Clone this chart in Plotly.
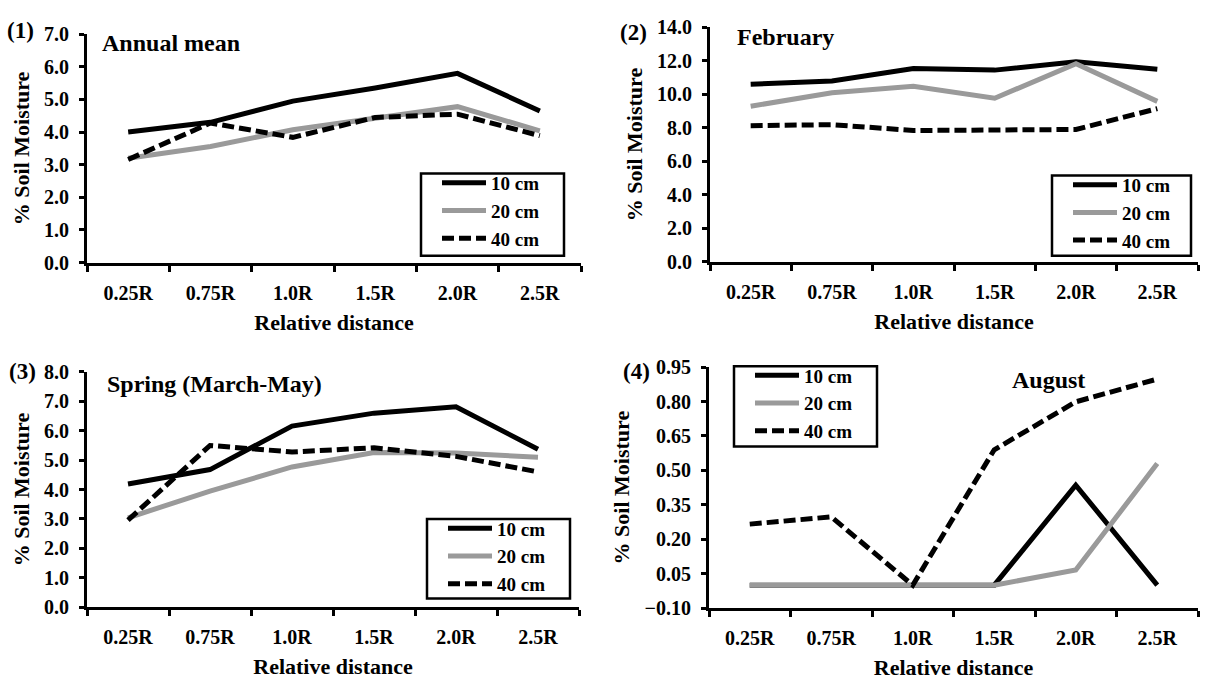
import plotly.graph_objects as go

W, H = 1211, 683

categories = ["0.25R", "0.75R", "1.0R", "1.5R", "2.0R", "2.5R"]
series_names = ["10 cm", "20 cm", "40 cm"]

# Panel 1: Annual mean
annual_10 = [4.0, 4.3, 4.95, 5.35, 5.8, 4.65]
annual_20 = [3.2, 3.56, 4.07, 4.43, 4.78, 4.04]
annual_40 = [3.16, 4.28, 3.84, 4.45, 4.55, 3.89]

# Panel 2: February
feb_10 = [10.6, 10.8, 11.55, 11.45, 11.95, 11.5]
feb_20 = [9.29, 10.1, 10.48, 9.77, 11.83, 9.58]
feb_40 = [8.13, 8.19, 7.84, 7.9, 7.9, 9.15]

# Panel 3: Spring (March-May)
spring_10 = [4.19, 4.68, 6.16, 6.6, 6.82, 5.37]
spring_20 = [3.04, 3.95, 4.77, 5.26, 5.24, 5.1]
spring_40 = [2.96, 5.5, 5.28, 5.42, 5.13, 4.6]

# Panel 4: August
aug_10 = [0.0, 0.0, 0.0, 0.0, 0.436, 0.0]
aug_20 = [0.0, 0.0, 0.0, 0.0, 0.066, 0.53]
aug_40 = [0.266, 0.2975, 0.0, 0.59, 0.799, 0.898]

panel_titles = ["Annual mean", "February", "Spring (March-May)", "August"]
panel_labels = ["(1)", "(2)", "(3)", "(4)"]
y_ranges = [[0, 7], [0, 14], [0, 8], [-0.10, 0.95]]
y_dticks = [1.0, 2.0, 1.0, 0.15]
y_formats = [".1f", ".1f", ".1f", ".2f"]

panels = [
    [annual_10, annual_20, annual_40],
    [feb_10, feb_20, feb_40],
    [spring_10, spring_20, spring_40],
    [aug_10, aug_20, aug_40],
]

FONT = "Liberation Serif"


def px(x):
    return x / W


def py(y):
    return 1 - y / H


# plot areas in pixels: (left, right, top, bottom)
boxes = [(87, 581, 24, 260), (710, 1198, 17, 259), (87, 579, 373, 616), (709, 1198, 368, 617)]
# legend frames (left, top, right, bottom)
leg_frames = [(421, 168, 564, 253), (1052, 170, 1191, 253), (427, 525, 570, 607), (734, 367, 877, 450)]

styles = [
    dict(color="#000000", width=5),
    dict(color="#9a9a9a", width=5),
    dict(color="#000000", width=5, dash="12px,5px"),
]

fig = go.Figure()
for i, series in enumerate(panels):
    k = "" if i == 0 else str(i + 1)
    lg = "legend" if i == 0 else f"legend{i + 1}"
    for name, vals, st in zip(series_names, series, styles):
        fig.add_trace(go.Scatter(
            x=categories, y=vals, name=name, mode="lines", line=st,
            xaxis="x" + k, yaxis="y" + k, legend=lg,
        ))

layout = dict(
    width=W, height=H, margin=dict(l=0, r=0, t=0, b=0),
    paper_bgcolor="white", plot_bgcolor="white",
    font=dict(family=FONT, size=20, color="black", weight="bold"),
    shapes=[], annotations=[],
)

for i in range(4):
    k = "" if i == 0 else str(i + 1)
    l, r, t, b = boxes[i]
    layout["xaxis" + k] = dict(
        domain=[px(l), px(r)], anchor="y" + k, type="category",
        categoryorder="array", categoryarray=categories,
        range=[-0.5, 5.5], showline=True, linecolor="black", linewidth=3,
        ticks="outside", tickson="boundaries", ticklen=6, tickwidth=3, tickcolor="black",
        showgrid=False, zeroline=False, ticklabelstandoff=10,
        tickfont=dict(family=FONT, size=20, weight="bold"),
        title=dict(text="Relative distance", font=dict(family=FONT, size=22, weight="bold"), standoff=12),
    )
    layout["yaxis" + k] = dict(
        domain=[py(b), py(t)], anchor="x" + k, range=y_ranges[i],
        tick0=y_ranges[i][0], dtick=y_dticks[i], tickformat=y_formats[i],
        showline=True, linecolor="black", linewidth=3,
        ticks="outside", ticklen=5, tickwidth=3, tickcolor="black",
        showgrid=False, zeroline=False, ticklabelstandoff=6,
        tickfont=dict(family=FONT, size=20, weight="bold"),
        title=dict(text="% Soil Moisture", font=dict(family=FONT, size=22, weight="bold"), standoff=9),
    )
    fl, ft, fr, fb = leg_frames[i]
    layout["shapes"].append(dict(
        type="rect", xref="paper", yref="paper",
        x0=px(fl), x1=px(fr), y0=py(fb), y1=py(ft),
        line=dict(color="black", width=2.5), fillcolor="rgba(0,0,0,0)", layer="above",
    ))
    lgkey = "legend" if i == 0 else f"legend{i + 1}"
    layout[lgkey] = dict(
        x=px(fl + 16), y=py(ft - 10), xanchor="left", yanchor="top",
        bgcolor="rgba(0,0,0,0)", borderwidth=0, itemwidth=44,
        font=dict(family=FONT, size=19, weight="bold"),
    )

# panel labels and titles
label_pos = [(20, 20), (633, 22), (22, 372), (636, 372)]
title_pos = [(100, 33, "left"), (735, 27, "left"), (105, 385, "left"), (1048, 381, "center")]
for i in range(4):
    lx, ly = label_pos[i]
    layout["annotations"].append(dict(
        text=panel_labels[i], x=px(lx), y=py(ly), xref="paper", yref="paper",
        xanchor="center", yanchor="middle", showarrow=False,
        font=dict(family=FONT, size=23, weight="bold"),
    ))
    tx, ty, anc = title_pos[i]
    layout["annotations"].append(dict(
        text=panel_titles[i], x=px(tx), y=py(ty), xref="paper", yref="paper",
        xanchor=anc, yanchor="middle", showarrow=False,
        font=dict(family=FONT, size=24, weight="bold"),
    ))

fig.update_layout(**layout)
fig.write_html("out.html", config={"displayModeBar": False},
               post_script="document.body.style.margin='0';document.body.style.overflow='hidden';")
